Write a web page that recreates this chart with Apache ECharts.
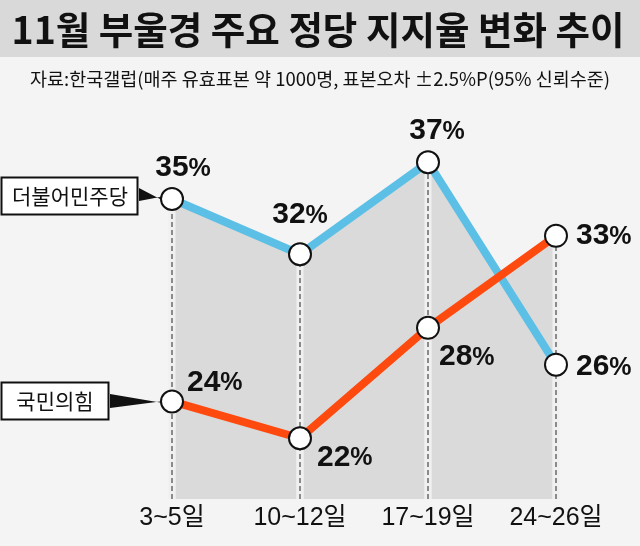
<!DOCTYPE html>
<html><head><meta charset="utf-8">
<script src="https://cdn.jsdelivr.net/npm/echarts@6/dist/echarts.min.js"></script>
<style>html,body{margin:0;padding:0;background:#f4f4f4}#c{width:640px;height:546px}</style>
</head><body><div id="c"></div>
<script>
var categories = ['3~5일', '10~12일', '17~19일', '24~26일'];
var democratic = [35, 32, 37, 26];
var peoplePower = [24, 22, 28, 33];
var seriesNames = ['더불어민주당', '국민의힘'];
var titleText = '11월 부울경 주요 정당 지지율 변화 추이';
var sourceText = '자료:한국갤럽(매주 유효표본 약 1000명, 표본오차 ±2.5%P(95% 신뢰수준)';

var yMin = 18.7, yMax = 40;
var numFont = "'Liberation Sans', Arial, 'Noto Sans CJK KR', sans-serif";

var blueLabelPlace = [
  {position: 'top', offset: [11, 1]},
  {position: 'top', offset: [0, -7]},
  {position: 'top', offset: [9, 1]},
  {position: 'right', offset: [3, 2]}
];
var orangeLabelPlace = [
  {position: 'right', offset: [-2, -19]},
  {position: 'right', offset: [0, 19]},
  {position: 'right', offset: [-6, 29]},
  {position: 'right', offset: [3, 0]}
];

function labelCfg(p) {
  return {
    show: true, position: p.position, offset: p.offset, distance: 5,
    formatter: function (d) { return '{n|' + d.value + '}{p|%}'; },
    rich: {
      n: {fontFamily: numFont, fontSize: 30, fontWeight: 'bold', color: '#111'},
      p: {fontFamily: numFont, fontSize: 25, fontWeight: 'bold', color: '#111', padding: [2, 0, 0, 0]}
    }
  };
}
function lineData(arr, places) {
  return arr.map(function (v, i) { return {value: v, label: labelCfg(places[i])}; });
}
function stripRender(params, api) {
  var top = api.coord([api.value(0), api.value(1)]);
  var bottom = api.coord([api.value(0), yMin]);
  return {type: 'group', children: [
    {type: 'rect', shape: {x: top[0] - 3.5, y: top[1], width: 7, height: bottom[1] - top[1]}, style: {fill: '#f0f0f0'}},
    {type: 'line', shape: {x1: top[0], y1: bottom[1], x2: top[0], y2: top[1]}, style: {stroke: '#555', lineWidth: 1.3, lineDash: [5, 3]}}
  ]};
}

var chart = echarts.init(document.getElementById('c'));
chart.setOption({
  backgroundColor: '#f4f4f4',
  animation: false,
  grid: {left: 108, right: 20, top: 107, bottom: 47},
  xAxis: {
    type: 'category', data: categories, boundaryGap: true,
    axisLine: {show: false}, axisTick: {show: false}, splitLine: {show: false},
    axisLabel: {margin: 7, fontFamily: numFont, fontSize: 25, color: '#111'}
  },
  yAxis: {type: 'value', min: yMin, max: yMax, show: false, splitLine: {show: false}},
  graphic: [
    {type: 'rect', left: 0, top: 0, shape: {width: 640, height: 57}, style: {fill: '#d9d9d9'}, z: 0},
    {type: 'text', x: 318, y: 30, style: {text: titleText, font: "bold 37.5px 'Noto Sans CJK KR', sans-serif", fill: '#111', align: 'center', verticalAlign: 'middle'}},
    {type: 'text', x: 320, y: 79, style: {text: sourceText, font: "18.5px 'Noto Sans CJK KR', sans-serif", fill: '#111', align: 'center', verticalAlign: 'middle'}},
    {type: 'rect', shape: {x: 1.5, y: 177.5, width: 136, height: 37}, style: {fill: '#fff', stroke: '#111', lineWidth: 2}, z: 10},
    {type: 'text', x: 70, y: 196, style: {text: seriesNames[0], font: "21px 'Noto Sans CJK KR', sans-serif", fill: '#111', align: 'center', verticalAlign: 'middle'}, z: 11},
    {type: 'polygon', shape: {points: [[139, 188], [139, 201], [160, 197], [162, 198], [160, 199]]}, style: {fill: '#111'}, z: 10},
    {type: 'rect', shape: {x: 1.5, y: 382.5, width: 107, height: 37}, style: {fill: '#fff', stroke: '#111', lineWidth: 2}, z: 10},
    {type: 'text', x: 55, y: 401, style: {text: seriesNames[1], font: "21px 'Noto Sans CJK KR', sans-serif", fill: '#111', align: 'center', verticalAlign: 'middle'}, z: 11},
    {type: 'polygon', shape: {points: [[110, 394], [110, 408], [160, 401.5], [162, 402], [160, 402.5]]}, style: {fill: '#111'}, z: 10}
  ],
  series: [
    {type: 'line', data: democratic, symbol: 'none', lineStyle: {width: 0}, areaStyle: {color: '#dadada', opacity: 1, origin: 'start'}, z: 1, silent: true},
    {type: 'line', data: peoplePower, symbol: 'none', lineStyle: {width: 0}, areaStyle: {color: '#dadada', opacity: 1, origin: 'start'}, z: 1, silent: true},
    {type: 'custom', renderItem: stripRender, data: democratic.map(function (v, i) { return [i, v]; }), z: 2, silent: true},
    {type: 'custom', renderItem: stripRender, data: peoplePower.map(function (v, i) { return [i, v]; }), z: 2, silent: true},
    {name: seriesNames[0], type: 'line', data: lineData(democratic, blueLabelPlace), z: 5,
      lineStyle: {color: '#5cbfe5', width: 8}, symbol: 'circle', symbolSize: 22,
      itemStyle: {color: '#fff', borderColor: '#111', borderWidth: 2}},
    {name: seriesNames[1], type: 'line', data: lineData(peoplePower, orangeLabelPlace), z: 5,
      lineStyle: {color: '#ff4a0f', width: 8}, symbol: 'circle', symbolSize: 22,
      itemStyle: {color: '#fff', borderColor: '#111', borderWidth: 2}}
  ]
});
</script></body></html>
